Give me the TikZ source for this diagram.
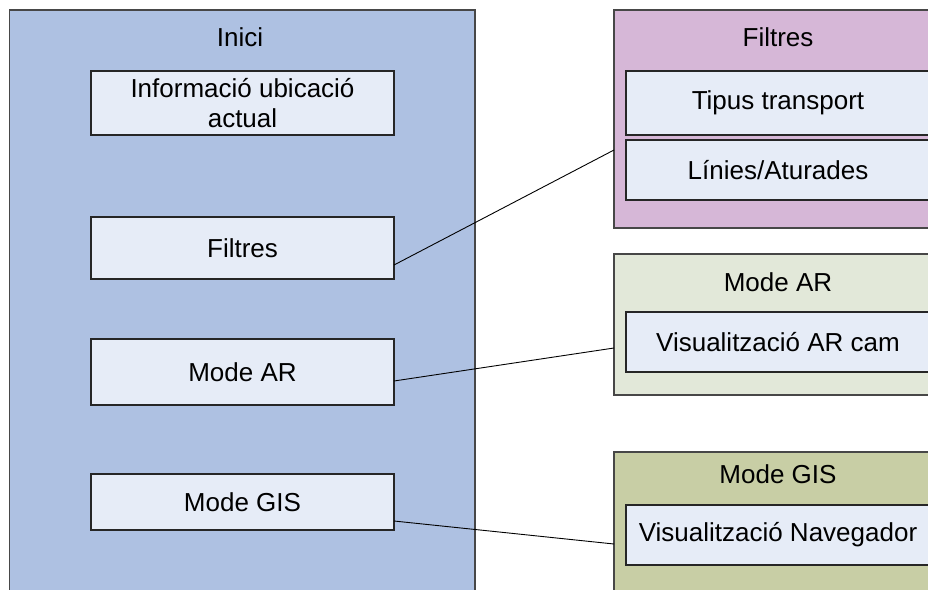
\documentclass[tikz,border=0pt]{standalone}
\usepackage{fontspec}
\setmainfont{Liberation Sans}
\definecolor{iniciblue}{RGB}{174,193,226}
\definecolor{itemfill}{RGB}{230,236,247}
\definecolor{filtrespink}{RGB}{214,183,215}
\definecolor{argreen}{RGB}{226,232,217}
\definecolor{gisolive}{RGB}{200,206,165}
\begin{document}
\begin{tikzpicture}[x=1pt,y=-1pt,
  every node/.style={font=\fontsize{26}{30}\selectfont, inner sep=0pt, outer sep=0pt},
  container/.style={draw=black!72, line width=1.3pt, rectangle, anchor=north west},
  item/.style={draw=black!85, line width=1.3pt, fill=itemfill, rectangle, anchor=north west, align=center},
  link/.style={draw=black, line width=0.9pt}]
  \useasboundingbox (0,0) rectangle (928,589);
  \fill[white] (0,0) rectangle (928,589);
  \clip (0,0) rectangle (928,589);

  % main screen
  \node[container, fill=iniciblue, minimum width=465.5pt, minimum height=640pt] (inici) at (9.5,10) {};
  \node (iniciT) at (240,37) {Inici};
  \node[item, minimum width=303pt, minimum height=64pt] (info) at (91,71) {};
  \node (infoT) at (info.center) [align=center] {Informació ubicació\\actual};
  \node[item, minimum width=303pt, minimum height=62pt] (filtres) at (91,217) {Filtres};
  \node[item, minimum width=303pt, minimum height=66pt] (modear) at (91,339) {Mode AR};
  \node[item, minimum width=303pt, minimum height=56pt] (modegis) at (91,474) {Mode GIS};

  % filters screen
  \node[container, fill=filtrespink, minimum width=328pt, minimum height=218pt] (filtresC) at (614,10) {};
  \node (filtresT) at (778,37) {Filtres};
  \node[item, minimum width=304pt, minimum height=64pt] (tipus) at (626,71) {Tipus transport};
  \node[item, minimum width=304pt, minimum height=60pt] (linies) at (626,140) {Línies/Aturades};

  % AR screen
  \node[container, fill=argreen, minimum width=328pt, minimum height=141pt] (arC) at (614,254) {};
  \node (arT) at (778,282) {Mode AR};
  \node[item, minimum width=304pt, minimum height=60pt] (arcam) at (626,312) {Visualització AR cam};

  % GIS screen
  \node[container, fill=gisolive, minimum width=328pt, minimum height=188pt] (gisC) at (614,452) {};
  \node (gisT) at (778,474) {Mode GIS};
  \node[item, minimum width=304pt, minimum height=60pt] (nav) at (626,505) {Visualització Navegador};

  % connectors
  \draw[link] ([yshift=-17pt]filtres.east) -- ([yshift=-31pt]filtresC.west);
  \draw[link] ([yshift=-9pt]modear.east) -- ([yshift=-23.5pt]arC.west);
  \draw[link] ([yshift=-19pt]modegis.east) -- ([yshift=2pt]gisC.west);
\end{tikzpicture}
\end{document}
